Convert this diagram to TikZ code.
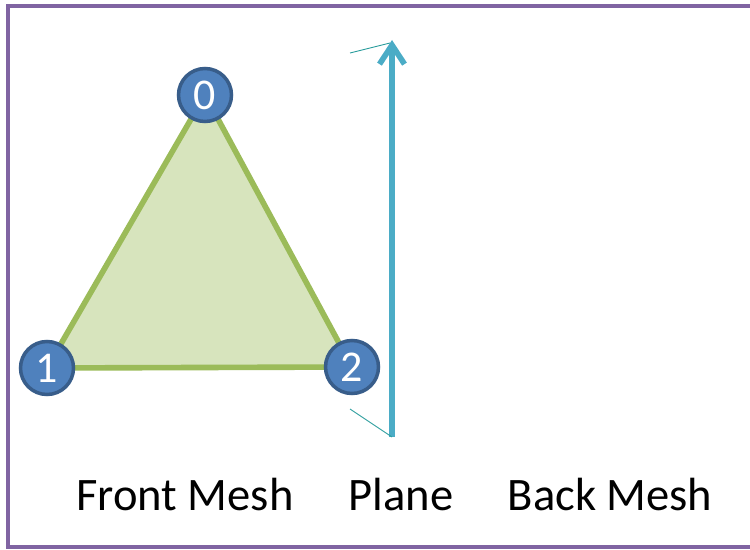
\documentclass[tikz,border=0pt]{standalone}
\usepackage{fontspec}
\setmainfont{Carlito}
\usetikzlibrary{arrows.meta}
\definecolor{framepurple}{HTML}{8064A2}
\definecolor{meshgreen}{HTML}{9BBB59}
\definecolor{meshfill}{HTML}{D7E4BD}
\definecolor{vertblue}{HTML}{4F81BD}
\definecolor{vertedge}{HTML}{385D8A}
\definecolor{planeblue}{HTML}{4BACC6}
\definecolor{guideteal}{HTML}{2E9E9E}
\tikzset{
  vertex/.style={circle, draw=vertedge, fill=vertblue, line width=2pt,
    minimum size=1.06cm, inner sep=0pt, text=white, font=\fontsize{25}{25}\selectfont},
  meshtri/.style={draw=meshgreen, fill=meshfill, line width=3.2pt, line join=round},
  planearrow/.style={draw=planeblue, line width=3.2pt,
    -{Straight Barb[length=0.38cm, width=0.5cm, line width=3.2pt]}},
  guide/.style={draw=guideteal, line width=0.5pt},
  caption/.style={anchor=base, inner sep=0pt, font=\fontsize{26.5}{26.5}\selectfont}
}
\begin{document}
\begin{tikzpicture}[x=0.02cm, y=-0.02cm]
\useasboundingbox (0,0) rectangle (750,550);

% frame
\begin{scope}
\clip (0,0) rectangle (750,550);
\draw[framepurple, line width=2.6pt] (8,6) rectangle (780,547);
\end{scope}

% triangle corners
\coordinate (p0) at (205,95);
\coordinate (p1) at (47,368);
\coordinate (p2) at (352,367);

\path[meshtri] (p0) -- (p1) -- (p2) -- cycle;

\node[vertex] (v0) at (p0) {0};
\node[vertex] (v1) at (p1) {1};
\node[vertex] (v2) at (p2) {2};

% plane
\coordinate (ptail) at (392,437);
\coordinate (phead) at (392,40);
\draw[planearrow] (ptail) -- (phead);

\coordinate (gtop) at (350,53);
\coordinate (gtopend) at (390,43);
\coordinate (gbot) at (350,409);
\draw[guide] (gtop) -- (gtopend);
\draw[guide] (gbot) -- (ptail);

% captions
\node[caption] (front) at (185,510) {Front Mesh};
\node[caption] (plane) at (401,510) {Plane};
\node[caption] (back) at (610,510) {Back Mesh};

\end{tikzpicture}
\end{document}
